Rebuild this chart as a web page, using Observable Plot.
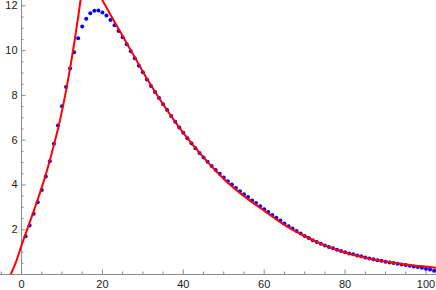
<!DOCTYPE html>
<html>
<head>
<meta charset="utf-8">
<script src="https://cdn.jsdelivr.net/npm/d3@7"></script>
<script src="https://cdn.jsdelivr.net/npm/@observablehq/plot@0.6"></script>
<style>
  html, body { margin: 0; padding: 0; background: #fff; }
</style>
</head>
<body>
<div id="chart"></div>
<script>
// Blue data points: x = 1, 2, 3, ...
const dotY = [
  1.71, 2.19, 2.71, 3.23, 3.77, 4.38, 5.06, 5.84, 6.66, 7.52,
  8.38, 9.20, 9.93, 10.55, 11.08, 11.42, 11.67, 11.78, 11.79, 11.70,
  11.57, 11.37, 11.13, 10.88, 10.60, 10.29, 9.97, 9.66, 9.33, 9.04,
  8.71, 8.42, 8.15, 7.88, 7.61, 7.35, 7.08, 6.82, 6.57, 6.33,
  6.09, 5.86, 5.64, 5.43, 5.23, 5.04, 4.85, 4.67, 4.50, 4.33,
  4.17, 4.02, 3.86, 3.72, 3.59, 3.46, 3.31, 3.19, 3.05, 2.92,
  2.79, 2.66, 2.53, 2.41, 2.28, 2.16, 2.05, 1.94, 1.83, 1.72,
  1.63, 1.53, 1.45, 1.37, 1.30, 1.23, 1.17, 1.11, 1.05, 0.99,
  0.94, 0.90, 0.85, 0.81, 0.76, 0.72, 0.68, 0.64, 0.61, 0.57,
  0.54, 0.51, 0.48, 0.45, 0.42, 0.39, 0.36, 0.33, 0.30, 0.26,
  0.22, 0.17
];

// Red fitted curve, rising part
const redLeftX = [-2.7, -1.5, 0, 1, 2, 3, 4, 5, 6, 7, 8, 9, 10, 11, 12, 13, 14, 14.7];
const redLeftY = [0, 0.5, 1.3, 1.82, 2.32, 2.83, 3.35, 3.89, 4.47, 5.1, 5.78, 6.5, 7.3, 8.2, 9.2, 10.3, 11.5, 12.4];

// Red fitted curve, decaying part
const redRightX = [20, 22, 24, 26, 28, 30, 32, 35, 40, 45, 50, 55, 60, 65, 70, 75, 80, 85, 90, 95, 100, 102.6];
const redRightY = [12.25, 11.6, 10.97, 10.33, 9.7, 9.06, 8.45, 7.6, 6.33, 5.23, 4.27, 3.5, 2.85, 2.22, 1.72, 1.30, 0.98, 0.75, 0.58, 0.45, 0.35, 0.30];

// Axis ticks
const xMajor = [0, 20, 40, 60, 80, 100];
const xMinor = [-5, 5, 10, 15, 25, 30, 35, 45, 50, 55, 65, 70, 75, 85, 90, 95];
const yMajor = [2, 4, 6, 8, 10, 12];
const yMinor = [0.5, 1, 1.5, 2.5, 3, 3.5, 4.5, 5, 5.5, 6.5, 7, 7.5, 8.5, 9, 9.5, 10.5, 11, 11.5];

const dots = dotY.map((y, i) => ({x: i + 1, y}));
const redLeft = redLeftX.map((x, i) => ({x, y: redLeftY[i]}));
const redRight = redRightX.map((x, i) => ({x, y: redRightY[i]}));

const axisColor = "#8a8a8a";
const W = 436, H = 290, MB = 16;
const plotH = H - MB;
const xDom = [-5.2, 102.6], yDom = [0, 12.24];
const pxPerX = W / (xDom[1] - xDom[0]);
const pxPerY = plotH / (yDom[1] - yDom[0]);
const majLen = 4.5, minLen = 2.5;

const chart = Plot.plot({
  width: W,
  height: H,
  marginLeft: 0,
  marginRight: 0,
  marginTop: 0,
  marginBottom: MB,
  style: {fontFamily: "'Liberation Sans', Arial, sans-serif", fontSize: "11px", background: "#fff", overflow: "visible"},
  x: {domain: xDom, axis: null},
  y: {domain: yDom, axis: null},
  marks: [
    Plot.ruleY([0], {stroke: axisColor, strokeWidth: 1}),
    Plot.ruleX([0], {stroke: axisColor, strokeWidth: 1}),
    Plot.ruleX(xMajor, {x: d => d, y1: 0, y2: majLen / pxPerY, stroke: axisColor}),
    Plot.ruleX(xMinor, {x: d => d, y1: 0, y2: minLen / pxPerY, stroke: axisColor}),
    Plot.ruleY(yMajor, {y: d => d, x1: 0, x2: majLen / pxPerX, stroke: axisColor}),
    Plot.ruleY(yMinor, {y: d => d, x1: 0, x2: minLen / pxPerX, stroke: axisColor}),
    Plot.text(xMajor, {x: d => d, y: 0, dy: 9.5, text: d => String(d), fill: "#222", fontSize: 11}),
    Plot.text(yMajor, {x: 0, y: d => d, dx: -4, textAnchor: "end", text: d => String(d), fill: "#222", fontSize: 11}),
    Plot.dot(dots, {x: "x", y: "y", r: 2, fill: "#0000ff", stroke: "none"}),
    Plot.line(redLeft, {x: "x", y: "y", stroke: "#ff0000", strokeWidth: 2, curve: "monotone-x", clip: true}),
    Plot.line(redRight, {x: "x", y: "y", stroke: "#ff0000", strokeWidth: 2, curve: "monotone-x", clip: true})
  ]
});
document.getElementById("chart").appendChild(chart);
</script>
</body>
</html>
